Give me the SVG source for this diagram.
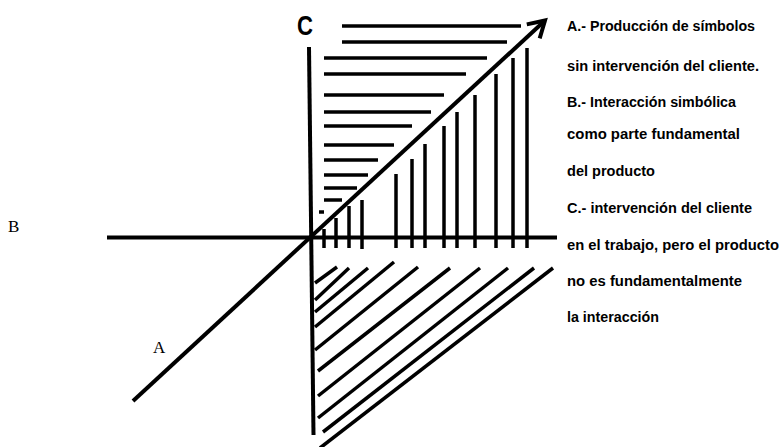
<svg xmlns="http://www.w3.org/2000/svg" width="779" height="447" viewBox="0 0 779 447">
<style>
.ax{stroke:#000;stroke-width:4;fill:none}
.h{stroke:#000;stroke-width:3.5;fill:none}
.lg{font-family:"Liberation Sans",Arial,sans-serif;font-weight:bold;font-size:14.5px;fill:#000}
.sf{font-family:"Liberation Serif","Times New Roman",serif;font-size:17px;fill:#000}
</style>
<defs>
<marker id="arr" markerUnits="userSpaceOnUse" markerWidth="40" markerHeight="40" refX="0" refY="0" viewBox="-25 -20 30 40" orient="auto" overflow="visible">
<path d="M-16,-9.5 L0,0 L-16,9.5" fill="none" stroke="#000" stroke-width="4"/>
</marker>
</defs>
<rect width="779" height="447" fill="#fff"/>
<g id="hatch-top">
<line class="h" x1="342" y1="26" x2="521" y2="26"/>
<line class="h" x1="342" y1="42" x2="507" y2="42"/>
<line class="h" x1="324" y1="58" x2="487" y2="58"/>
<line class="h" x1="324" y1="74" x2="466" y2="74"/>
<line class="h" x1="324" y1="95" x2="444" y2="95"/>
<line class="h" x1="324" y1="112" x2="431" y2="112"/>
<line class="h" x1="324" y1="126" x2="412" y2="126"/>
<line class="h" x1="324" y1="145" x2="394" y2="145"/>
<line class="h" x1="324" y1="160" x2="378" y2="160"/>
<line class="h" x1="324" y1="175" x2="368" y2="175"/>
<line class="h" x1="324" y1="188" x2="357" y2="188"/>
<line class="h" x1="324" y1="200" x2="342" y2="200"/>
<line class="h" x1="319" y1="212" x2="324" y2="212"/>
</g>
<g id="hatch-vertical">
<line class="h" x1="324" y1="229" x2="324" y2="248"/>
<line class="h" x1="336" y1="218" x2="336" y2="248"/>
<line class="h" x1="349" y1="206" x2="349" y2="248"/>
<line class="h" x1="362" y1="200" x2="362" y2="249"/>
<line class="h" x1="396" y1="174" x2="396" y2="248"/>
<line class="h" x1="412" y1="159" x2="412" y2="248"/>
<line class="h" x1="425" y1="144" x2="425" y2="248"/>
<line class="h" x1="444" y1="126" x2="444" y2="248"/>
<line class="h" x1="457" y1="112" x2="457" y2="248"/>
<line class="h" x1="475" y1="95" x2="475" y2="248"/>
<line class="h" x1="496" y1="74" x2="496" y2="248"/>
<line class="h" x1="513" y1="58" x2="513" y2="248"/>
<line class="h" x1="527" y1="48" x2="527" y2="248"/>
</g>
<g id="hatch-diagonal">
<line class="h" x1="315" y1="283" x2="337" y2="267"/>
<line class="h" x1="315" y1="300" x2="349" y2="268"/>
<line class="h" x1="315" y1="312" x2="368" y2="268"/>
<line class="h" x1="315" y1="327" x2="394" y2="262"/>
<line class="h" x1="315" y1="350" x2="418" y2="267"/>
<line class="h" x1="318" y1="371" x2="450" y2="268"/>
<line class="h" x1="318" y1="396" x2="480" y2="268"/>
<line class="h" x1="318" y1="418" x2="508" y2="268"/>
<line class="h" x1="323" y1="432" x2="534" y2="268"/>
<line class="h" x1="320" y1="448" x2="553" y2="268"/>
</g>
<g id="connectors">
<line id="axis-B" class="ax" x1="107" y1="237.5" x2="557" y2="237.5"/>
<line id="axis-C" class="ax" x1="309" y1="47" x2="313.5" y2="435"/>
<line id="axis-A" class="ax" x1="133" y1="401" x2="545" y2="20.5" marker-end="url(#arr)"/>
</g>
<g id="label-C"><text x="297" y="35" font-family="Liberation Sans, Arial, sans-serif" font-weight="bold" font-size="27" textLength="16" lengthAdjust="spacingAndGlyphs">C</text></g>
<g id="label-B"><text class="sf" x="8" y="232">B</text></g>
<g id="label-A"><text class="sf" x="153" y="353">A</text></g>
<g id="legend">
<text class="lg" x="567" y="31" textLength="188" lengthAdjust="spacingAndGlyphs">A.- Producción de símbolos</text>
<text class="lg" x="567" y="71" textLength="192" lengthAdjust="spacingAndGlyphs">sin intervención del cliente.</text>
<text class="lg" x="567" y="107" textLength="169" lengthAdjust="spacingAndGlyphs">B.- Interacción simbólica</text>
<text class="lg" x="567" y="139" textLength="173" lengthAdjust="spacingAndGlyphs">como parte fundamental</text>
<text class="lg" x="567" y="176" textLength="88" lengthAdjust="spacingAndGlyphs">del producto</text>
<text class="lg" x="567" y="213" textLength="185" lengthAdjust="spacingAndGlyphs">C.- intervención del cliente</text>
<text class="lg" x="567" y="250" textLength="212" lengthAdjust="spacingAndGlyphs">en el trabajo, pero el producto</text>
<text class="lg" x="567" y="286" textLength="175" lengthAdjust="spacingAndGlyphs">no es fundamentalmente</text>
<text class="lg" x="567" y="322" textLength="92" lengthAdjust="spacingAndGlyphs">la interacción</text>
</g>
</svg>
